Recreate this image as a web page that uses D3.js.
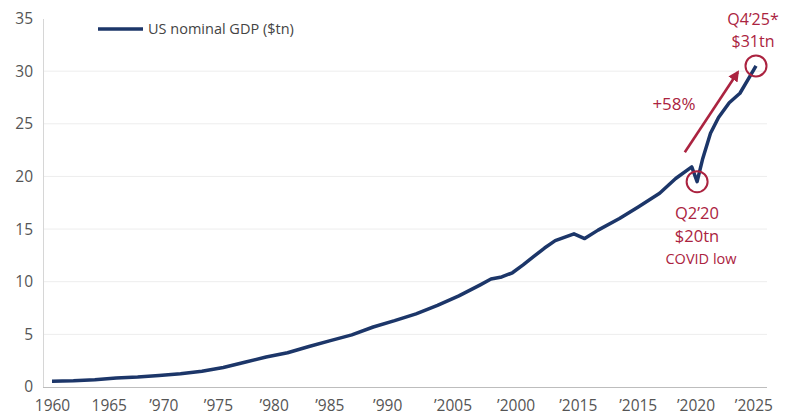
<!DOCTYPE html>
<html>
<head>
<meta charset="utf-8">
<script src="https://cdn.jsdelivr.net/npm/d3@7/dist/d3.min.js"></script>
<style>
  html, body { margin: 0; padding: 0; background: #fff; }
  svg { display: block; font-family: "Open Sans", "Noto Sans", sans-serif; }
</style>
</head>
<body>
<svg id="chart" width="789" height="416"></svg>
<script>
// US nominal GDP, $tn (time in decimal years)
const years = [
  1960, 1962, 1964, 1966, 1968, 1970, 1972, 1974, 1976, 1978,
  1980, 1982, 1984, 1986, 1988, 1990, 1992, 1994, 1996, 1998,
  2000, 2001, 2002, 2003, 2004, 2005, 2006, 2007, 2008.75, 2009.75,
  2011, 2013, 2014.75, 2016.75, 2018.25, 2019.75, 2020.25, 2020.75,
  2021.5, 2022.25, 2023.25, 2024.25, 2025, 2025.75
];
const gdp = [
  0.55, 0.60, 0.70, 0.85, 0.95, 1.10, 1.25, 1.50, 1.85, 2.35,
  2.85, 3.25, 3.85, 4.40, 4.95, 5.70, 6.30, 6.95, 7.75, 8.65,
  9.70, 10.25, 10.45, 10.85, 11.60, 12.40, 13.20, 13.90, 14.55, 14.10,
  14.90, 16.00, 17.10, 18.40, 19.80, 20.90, 19.50, 21.60,
  24.10, 25.60, 27.00, 27.90, 29.20, 30.50
];

// Axis tick labels as printed, and the time each one sits at
const tickLabels = ["1960", "1965", "’970", "’975", "’980", "’985", "’990",
                    "’2005", "’2000", "’2015", "’2015", "’2020", "’2025"];
const tickYears = [1960, 1965.3, 1970.4, 1975.5, 1980.7, 1985.9, 1991.3,
                   1997.4, 2003.3, 2009.1, 2014.7, 2020.1, 2025.5];
const yTicks = [0, 5, 10, 15, 20, 25, 30, 35];

// Annotations
const covidLow = { year: 2020.25, value: 19.5, lines: ["Q2’20", "$20tn", "COVID low"] };
const latest   = { year: 2025.75, value: 30.5, lines: ["Q4’25*", "$31tn"] };
const growth   = { label: "+58%", from: [2019.1, 22.3], to: [2024.05, 29.9] };
const seriesName = "US nominal GDP ($tn)";

const NAVY = "#1c3669";
const RED = "#ab2340";

const svg = d3.select("#chart");
const x = d3.scaleLinear().domain([1960, 2025.75]).range([52, 756]);
const y = d3.scaleLinear().domain([0, 35]).range([387, 18.5]);

const data = years.map((t, i) => ({ t, v: gdp[i] }));

// Horizontal gridlines
svg.append("g")
  .selectAll("line")
  .data(yTicks.filter(d => d > 0 && d < 35))
  .join("line")
  .attr("x1", 43).attr("x2", 767)
  .attr("y1", d => y(d)).attr("y2", d => y(d))
  .attr("stroke", "#ededed").attr("stroke-width", 1);

// Y axis
const yAxis = svg.append("g")
  .attr("transform", "translate(43,0)")
  .call(d3.axisLeft(y).tickValues(yTicks).tickSize(0).tickPadding(10));
yAxis.select(".domain").attr("stroke", "#d6d6d6");
yAxis.selectAll("text").attr("fill", "#555").attr("font-size", 15.5)
  .attr("font-family", "Open Sans, sans-serif");

// X axis
const xAxis = svg.append("g")
  .attr("transform", "translate(0,387)")
  .call(d3.axisBottom(x).tickValues(tickYears).tickSize(0).tickPadding(13)
    .tickFormat((d, i) => tickLabels[i]));
xAxis.select(".domain").remove();
xAxis.selectAll("text").attr("fill", "#555").attr("font-size", 15.5)
  .attr("font-family", "Open Sans, sans-serif");
svg.append("line")
  .attr("x1", 43).attr("x2", 767).attr("y1", 387.5).attr("y2", 387.5)
  .attr("stroke", "#bdbdbd").attr("stroke-width", 1.2);

// GDP line
svg.append("path")
  .datum(data)
  .attr("fill", "none")
  .attr("stroke", NAVY)
  .attr("stroke-width", 3.5)
  .attr("stroke-linejoin", "round")
  .attr("d", d3.line().x(d => x(d.t)).y(d => y(d.v)));

// Legend
svg.append("line")
  .attr("x1", 98).attr("x2", 143).attr("y1", 29).attr("y2", 29)
  .attr("stroke", NAVY).attr("stroke-width", 3.5);
svg.append("text")
  .attr("x", 148).attr("y", 34)
  .attr("fill", "#444").attr("font-size", 14.5)
  .text(seriesName);

// Growth arrow
svg.append("defs").append("marker")
  .attr("id", "arrowHead")
  .attr("viewBox", "0 0 10 10")
  .attr("refX", 8).attr("refY", 5)
  .attr("markerWidth", 4.2).attr("markerHeight", 4.2)
  .attr("orient", "auto")
  .append("path").attr("d", "M0,0 L10,5 L0,10 Z").attr("fill", RED);
svg.append("line")
  .attr("x1", x(growth.from[0])).attr("y1", y(growth.from[1]))
  .attr("x2", x(growth.to[0])).attr("y2", y(growth.to[1]))
  .attr("stroke", RED).attr("stroke-width", 2.6)
  .attr("marker-end", "url(#arrowHead)");
svg.append("text")
  .attr("x", 674).attr("y", 110)
  .attr("text-anchor", "middle")
  .attr("fill", RED).attr("font-size", 17).attr("font-weight", 500)
  .text(growth.label);

// Highlight circles
[covidLow, latest].forEach(p => {
  svg.append("circle")
    .attr("cx", x(p.year)).attr("cy", y(p.value)).attr("r", 10.5)
    .attr("fill", "none").attr("stroke", RED).attr("stroke-width", 2);
});

// Annotation labels
svg.append("text")
  .attr("text-anchor", "middle").attr("fill", RED)
  .attr("font-weight", 500)
  .selectAll("tspan").data(covidLow.lines).join("tspan")
  .attr("x", (d, i) => i === 2 ? 701 : 697)
  .attr("y", (d, i) => 219 + i * 22.5)
  .attr("font-size", (d, i) => i === 2 ? 14.5 : 16.5)
  .text(d => d);

svg.append("text")
  .attr("text-anchor", "middle").attr("fill", RED)
  .attr("font-size", 16).attr("font-weight", 500)
  .selectAll("tspan").data(latest.lines).join("tspan")
  .attr("x", 753).attr("y", (d, i) => 25 + i * 21.5)
  .text(d => d);
</script>
</body>
</html>
